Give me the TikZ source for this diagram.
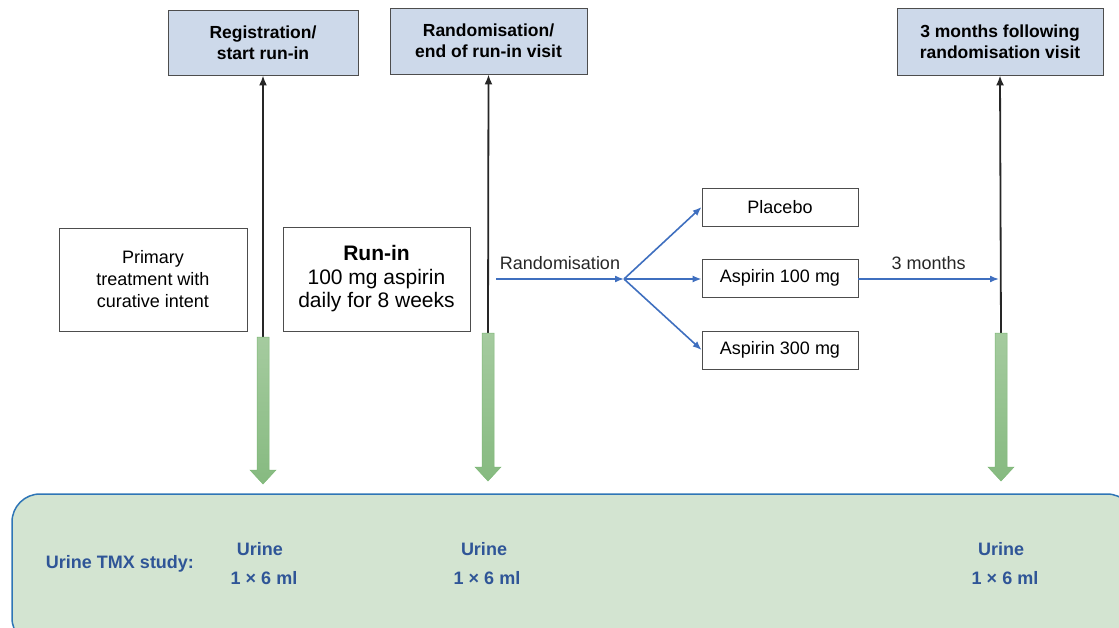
\documentclass[tikz,border=0pt]{standalone}
\usepackage{fontspec}
\setmainfont{Liberation Sans}
\usetikzlibrary{arrows.meta}
\definecolor{headfill}{HTML}{CDD9EA}
\definecolor{boxline}{HTML}{4D4D4D}
\definecolor{flowblue}{HTML}{3F6FBF}
\definecolor{gtop}{HTML}{A5CB9F}
\definecolor{gbot}{HTML}{86BA80}
\definecolor{gedge}{HTML}{7DB876}
\definecolor{studyfill}{HTML}{D3E4D1}
\definecolor{studyline}{HTML}{2E75B6}
\definecolor{studytext}{HTML}{2F5597}
\begin{document}
\begin{tikzpicture}[x=1pt,y=-1pt,
		headbox/.style={draw=boxline,line width=0.9pt,fill=headfill,align=center,inner sep=0pt,
			font=\bfseries\fontsize{17.5}{21}\selectfont},
		plainbox/.style={draw=boxline,line width=0.8pt,fill=white,align=center,inner sep=0pt},
		armbox/.style={plainbox,minimum width=156,minimum height=38,font=\fontsize{18}{21}\selectfont},
		timeline/.style={line width=1.8pt,black!85,-{Latex[length=10pt,width=8pt]}},
		flow/.style={line width=1.6pt,flowblue,-{Latex[length=9pt,width=7pt]}},
		flowlabel/.style={text=black!85,font=\fontsize{18}{21}\selectfont,inner sep=0pt},
		studytxt/.style={text=studytext,inner sep=0pt,font=\bfseries\fontsize{18}{21}\selectfont}]
	\useasboundingbox (0,0) rectangle (1119,627);
	% bottom study panel
	\node[draw=studyline,line width=1.5pt,fill=studyfill,rounded corners=28pt,
		minimum width=1123,minimum height=152] (study) at (573.5,570) {};
	% visit boxes
	\node[headbox,minimum width=190,minimum height=65] (reg) at (263,42.5) {Registration/\\start run-in};
	\node[headbox,minimum width=197,minimum height=66] (rand) at (488.5,41) {Randomisation/\\end of run-in visit};
	\node[headbox,minimum width=206,minimum height=67] (fup) at (1000,41.5) {3 months following\\randomisation visit};
	% treatment boxes
	\node[plainbox,minimum width=188,minimum height=103,font=\fontsize{18}{22}\selectfont] (prim) at (153,279.5)
		{Primary\\treatment with\\curative intent};
	\node[plainbox,minimum width=187,minimum height=104,font=\fontsize{21}{23.5}\selectfont] (runin) at (376.5,279)
		{\textbf{Run-in}\\100 mg aspirin\\daily for 8 weeks};
	\node[armbox] (plac) at (780,207) {Placebo};
	\node[armbox] (a100) at (780,278) {Aspirin 100 mg};
	\node[armbox] (a300) at (780,350) {Aspirin 300 mg};
	% time lines
	\coordinate (r1) at (263,338);
	\coordinate (r2) at (488,334);
	\coordinate (r3) at (1001,334);
	\draw[timeline] (r1) -- (reg.south);
	\draw[timeline] (r2) -- (rand.south);
	\draw[timeline] (r3) -- (fup.south);
	% randomisation
	\coordinate (rs) at (496,279);
	\coordinate (fork) at (624,279);
	\coordinate (m3) at (999,279);
	\draw[flow] (rs) -- node[flowlabel,above=9pt] (rlbl) {Randomisation} (fork);
	\draw[flow] (fork) -- (plac.west);
	\draw[flow] (fork) -- (a100.west |- fork);
	\draw[flow] (fork) -- (a300.west);
	\draw[flow] (a100.east |- m3) -- node[flowlabel,above=9pt] (mlbl) {3 months} (m3);
	% sample arrows
	\foreach \gx/\gt/\gb in {263/337/484, 488/333/481, 1001/333/481}
		\shade[top color=gtop,bottom color=gbot,draw=gedge,line width=0.5pt]
			(\gx-6,\gt) -- (\gx+6,\gt) -- (\gx+6,\gb-14) -- (\gx+13,\gb-14) -- (\gx,\gb)
			-- (\gx-13,\gb-14) -- (\gx-6,\gb-14) -- cycle;
	% study labels
	\node[studytxt] (tmx) at (120,564) {Urine TMX study:};
	\node[studytxt] (u1) at (260,549) {Urine};
	\node[studytxt] (v1) at (264,578) {1 × 6 ml};
	\node[studytxt] (u2) at (484,549) {Urine};
	\node[studytxt] (v2) at (487,578) {1 × 6 ml};
	\node[studytxt] (u3) at (1001,549) {Urine};
	\node[studytxt] (v3) at (1005,578) {1 × 6 ml};
\end{tikzpicture}
\end{document}
